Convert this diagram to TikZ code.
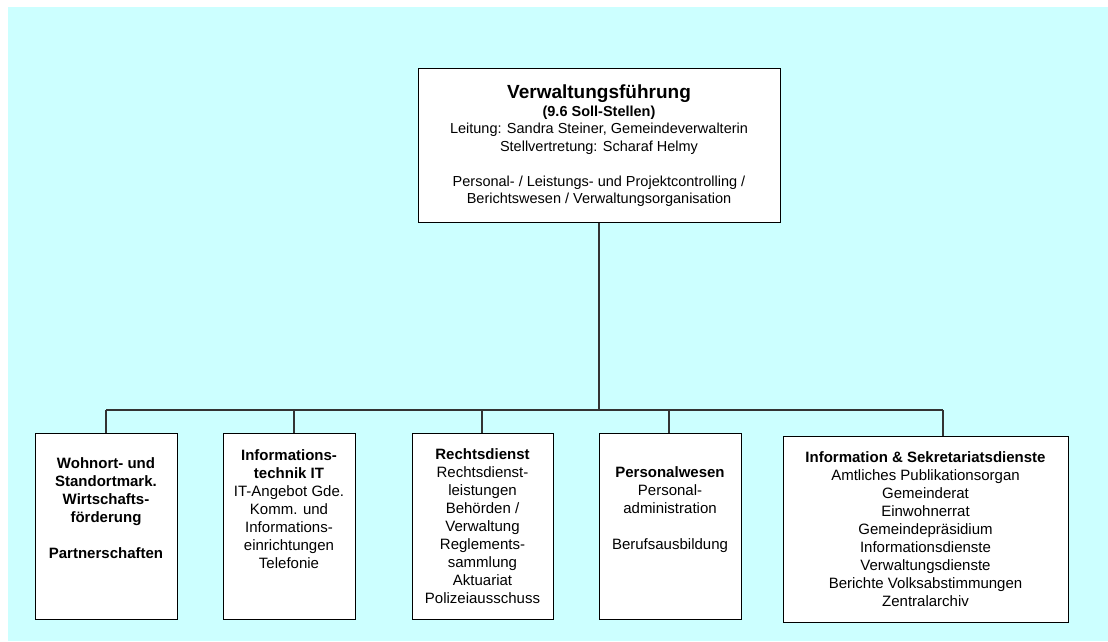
\documentclass[tikz,border=0pt]{standalone}
\usepackage{fontspec}
\setmainfont{Liberation Sans}
\definecolor{bgcyan}{RGB}{204,255,255}
\definecolor{linkgray}{RGB}{51,51,51}

\begin{document}
\begin{tikzpicture}[x=1pt,y=-1pt,
		box/.style={draw=black,line width=1pt,fill=white,inner sep=0pt},
		txt/.style={anchor=north,align=center,inner sep=0pt,font=\fontsize{15}{18}\selectfont},
		link/.style={draw=linkgray,line width=1.4pt}]
		% background
		\useasboundingbox (0,0) rectangle (1108,641);
		\fill[bgcyan] (8,7) rectangle (1108,641);
		% boxes
		\node[box,minimum width=362pt,minimum height=154pt] (top) at (599,145) {};
		\node[box,minimum width=142pt,minimum height=186pt] (b1) at (106,526) {};
		\node[box,minimum width=132pt,minimum height=186pt] (b2) at (289,526) {};
		\node[box,minimum width=141pt,minimum height=186pt] (b3) at (482.5,526) {};
		\node[box,minimum width=142pt,minimum height=186pt] (b4) at (670,526) {};
		\node[box,minimum width=285pt,minimum height=186pt] (b5) at (925.5,529) {};
		% texts
		\node[txt,font=\fontsize{14.5}{17.5}\selectfont] (ttop) at (599,85)
			{{\fontsize{19}{20}\selectfont\bfseries Verwaltungsführung}\\
			{\bfseries (9.6 Soll-Stellen)}\\
			Leitung: Sandra Steiner, Gemeindeverwalterin\\
			Stellvertretung: Scharaf Helmy\\[17.5pt]
			Personal- / Leistungs- und Projektcontrolling /\\
			Berichtswesen / Verwaltungsorganisation};
		\node[txt,font=\fontsize{15}{18}\selectfont\bfseries] (t1) at (106,457)
			{Wohnort- und\\Standortmark.\\Wirtschafts-\\förderung\\[18pt]Partnerschaften};
		\node[txt] (t2) at (289,449)
			{\textbf{Informations-}\\\textbf{technik IT}\\IT-Angebot Gde.\\Komm. und\\Informations-\\einrichtungen\\Telefonie};
		\node[txt] (t3) at (482.5,448)
			{\textbf{Rechtsdienst}\\Rechtsdienst-\\leistungen\\Behörden /\\Verwaltung\\Reglements-\\sammlung\\Aktuariat\\Polizeiausschuss};
		\node[txt] (t4) at (670,466)
			{\textbf{Personalwesen}\\Personal-\\administration\\[18pt]Berufsausbildung};
		\node[txt] (t5) at (925.5,451)
			{\textbf{Information \& Sekretariatsdienste}\\Amtliches Publikationsorgan\\Gemeinderat\\Einwohnerrat\\Gemeindepräsidium\\Informationsdienste\\Verwaltungsdienste\\Berichte Volksabstimmungen\\Zentralarchiv};
		% connectors
		\coordinate (j1) at (106,410);
		\coordinate (j2) at (294,410);
		\coordinate (j3) at (482,410);
		\coordinate (j4) at (669,410);
		\coordinate (j5) at (943,410);
		\draw[link] (top.south) -- (top.south |- j1);
		\draw[link] (j1) -- (j5);
		\draw[link] (j1) -- (j1 |- b1.north);
		\draw[link] (j2) -- (j2 |- b2.north);
		\draw[link] (j3) -- (j3 |- b3.north);
		\draw[link] (j4) -- (j4 |- b4.north);
		\draw[link] (j5) -- (j5 |- b5.north);
	\end{tikzpicture}
\end{document}
